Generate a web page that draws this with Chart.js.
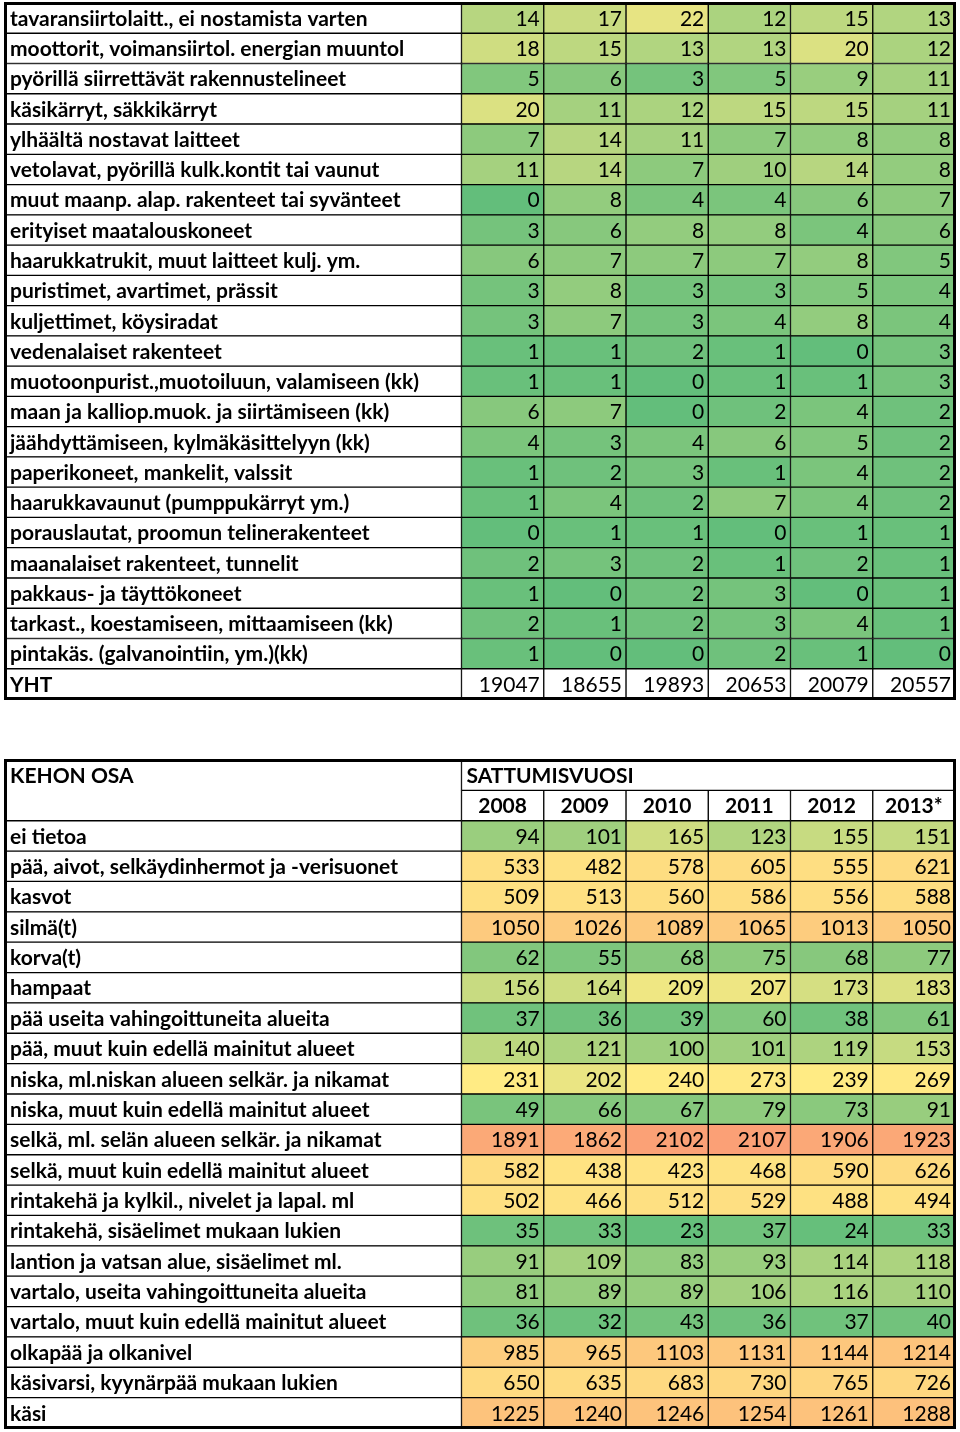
<!DOCTYPE html>
<html>
<head>
<meta charset="utf-8">
<script src="https://cdn.jsdelivr.net/npm/chart.js@4.4.1/dist/chart.umd.min.js"></script>
<style>
  body { margin: 0; background: #fff; }
  .box { position: absolute; left: 0; width: 960px; }
  #top { top: 0; height: 705px; }
  #bottom { top: 752px; height: 680px; }
</style>
</head>
<body>
<div class="box" id="top"><canvas id="chartTop"></canvas></div>
<div class="box" id="bottom"><canvas id="chartBottom"></canvas></div>
<script>
// top table: row names and yearly values (last row = total)
var labelsTop = [
  "tavaransiirtolaitt., ei nostamista varten",
  "moottorit, voimansiirtol. energian muuntol",
  "pyörillä siirrettävät rakennustelineet",
  "käsikärryt, säkkikärryt",
  "ylhäältä nostavat laitteet",
  "vetolavat, pyörillä kulk.kontit tai vaunut",
  "muut maanp. alap. rakenteet tai syvänteet",
  "erityiset maatalouskoneet",
  "haarukkatrukit, muut laitteet kulj. ym.",
  "puristimet, avartimet, prässit",
  "kuljettimet, köysiradat",
  "vedenalaiset rakenteet",
  "muotoonpurist.,muotoiluun, valamiseen (kk)",
  "maan ja kalliop.muok. ja siirtämiseen (kk)",
  "jäähdyttämiseen, kylmäkäsittelyyn (kk)",
  "paperikoneet, mankelit, valssit",
  "haarukkavaunut (pumppukärryt ym.)",
  "porauslautat, proomun telinerakenteet",
  "maanalaiset rakenteet, tunnelit",
  "pakkaus- ja täyttökoneet",
  "tarkast., koestamiseen, mittaamiseen (kk)",
  "pintakäs. (galvanointiin, ym.)(kk)",
  "YHT"
];
var top2008 = [14,18,5,20,7,11,0,3,6,3,3,1,1,6,4,1,1,0,2,1,2,1,19047];
var top2009 = [17,15,6,11,14,14,8,6,7,8,7,1,1,7,3,2,4,1,3,0,1,0,18655];
var top2010 = [22,13,3,12,11,7,4,8,7,3,3,2,0,0,4,3,2,1,2,2,2,0,19893];
var top2011 = [12,13,5,15,7,10,4,8,7,3,4,1,1,2,6,1,7,0,1,3,3,2,20653];
var top2012 = [15,20,9,15,8,14,6,4,8,5,8,0,1,4,5,4,4,1,2,0,4,1,20079];
var top2013 = [13,12,11,11,8,8,7,6,5,4,4,3,3,2,2,2,2,1,1,1,1,0,20557];

// bottom table: body parts
var years = ["2008", "2009", "2010", "2011", "2012", "2013*"];
var labelsBody = [
  "ei tietoa",
  "pää, aivot, selkäydinhermot ja -verisuonet",
  "kasvot",
  "silmä(t)",
  "korva(t)",
  "hampaat",
  "pää useita vahingoittuneita alueita",
  "pää, muut kuin edellä mainitut alueet",
  "niska, ml.niskan alueen selkär. ja nikamat",
  "niska, muut kuin edellä mainitut alueet",
  "selkä, ml. selän alueen selkär. ja nikamat",
  "selkä, muut kuin edellä mainitut alueet",
  "rintakehä ja kylkil., nivelet ja lapal. ml",
  "rintakehä, sisäelimet mukaan lukien",
  "lantion ja vatsan alue, sisäelimet ml.",
  "vartalo, useita vahingoittuneita alueita",
  "vartalo, muut kuin edellä mainitut alueet",
  "olkapää ja olkanivel",
  "käsivarsi, kyynärpää mukaan lukien",
  "käsi"
];
var body2008 = [94,533,509,1050,62,156,37,140,231,49,1891,582,502,35,91,81,36,985,650,1225];
var body2009 = [101,482,513,1026,55,164,36,121,202,66,1862,438,466,33,109,89,32,965,635,1240];
var body2010 = [165,578,560,1089,68,209,39,100,240,67,2102,423,512,23,83,89,43,1103,683,1246];
var body2011 = [123,605,586,1065,75,207,60,101,273,79,2107,468,529,37,93,106,36,1131,730,1254];
var body2012 = [155,555,556,1013,68,173,38,119,239,73,1906,590,488,24,114,116,37,1144,765,1261];
var body2013 = [151,621,588,1050,77,183,61,153,269,91,1923,626,494,33,118,110,40,1214,726,1288];

var LABEL_W = 5.55; // width of the name column, in value-column units
var FONT = "Lato, 'Open Sans', sans-serif";

// excel style 3-colour scale: green -> yellow -> red
function scaleColor(v, lo, mid, hi) {
  var g = [99, 190, 123], y = [255, 235, 132], r = [248, 105, 107];
  var a, b, t;
  if (v <= mid) { a = g; b = y; t = (v - lo) / (mid - lo); }
  else { a = y; b = r; t = (v - mid) / (hi - mid); }
  t = Math.max(0, Math.min(1, t));
  var c = a.map(function (x, k) { return Math.round(x + (b[k] - x) * t); });
  return "rgb(" + c.join(",") + ")";
}

var tableText = {
  id: "tableText",
  afterDatasetsDraw: function (chart) {
    var ctx = chart.ctx;
    ctx.save();
    chart.data.datasets.forEach(function (ds, d) {
      var meta = chart.getDatasetMeta(d);
      meta.data.forEach(function (el, i) {
        var t = ds.texts[i];
        if (t === null || t === undefined || t === "") return;
        var p = el.getProps(["x", "base", "y"], true);
        var bold = ds.bold === true || (ds.boldRows && ds.boldRows.indexOf(i) >= 0);
        ctx.font = (bold ? "bold " : "") + (ds.fontSize || 19) + "px " + FONT;
        ctx.fillStyle = "#000";
        ctx.textBaseline = "middle";
        var align = (ds.centerRows && ds.centerRows.indexOf(i) >= 0) ? "center" : ds.align;
        ctx.textAlign = align;
        var tx = align === "left" ? Math.min(p.x, p.base) + 5
               : align === "center" ? (p.x + p.base) / 2
               : Math.max(p.x, p.base) - 4;
        ctx.fillText(String(t), tx, p.y + 1);
      });
    });
    var a = chart.chartArea;
    ctx.lineWidth = 3;
    ctx.strokeStyle = "#000";
    ctx.strokeRect(a.left + 0.5, a.top + 0.5, a.right - a.left - 1, a.bottom - a.top - 1);
    ctx.restore();
  }
};

function baseOptions(padding) {
  return {
    indexAxis: "y",
    responsive: true,
    maintainAspectRatio: false,
    animation: false,
    events: [],
    layout: { padding: padding },
    plugins: { legend: { display: false }, tooltip: { enabled: false } },
    scales: {
      x: { type: "linear", display: false, min: -LABEL_W, max: 6 },
      y: { type: "category", display: false, offset: true }
    }
  };
}

function cellDefaults() {
  return { grouped: false, categoryPercentage: 1, barPercentage: 1,
           borderColor: "#000", borderSkipped: false };
}

// ----- top table -----
var topCols = [top2008, top2009, top2010, top2011, top2012, top2013];
var lastTop = labelsTop.length - 1;
var topSets = [Object.assign(cellDefaults(), {
  data: labelsTop.map(function () { return [-LABEL_W, 0]; }),
  backgroundColor: "#fff", borderWidth: 1,
  texts: labelsTop, align: "left", bold: true, fontSize: 21
})];
topCols.forEach(function (vals, c) {
  topSets.push(Object.assign(cellDefaults(), {
    data: vals.map(function () { return [c, c + 1]; }),
    backgroundColor: vals.map(function (v, i) {
      return i === lastTop ? "#fff" : scaleColor(v, 0, 26, 60);
    }),
    borderWidth: 1,
    texts: vals, align: "right", fontSize: 21
  }));
});

new Chart(document.getElementById("chartTop"), {
  type: "bar",
  data: { labels: labelsTop, datasets: topSets },
  options: baseOptions({ left: 5, top: 3, right: 5, bottom: 6 }),
  plugins: [tableText]
});

// ----- bottom table -----
var bodyCols = [body2008, body2009, body2010, body2011, body2012, body2013];
var rowsBottom = ["KEHON OSA", ""].concat(labelsBody);
var bottomSets = [Object.assign(cellDefaults(), {
  data: rowsBottom.map(function () { return [-LABEL_W, 0]; }),
  backgroundColor: "#fff",
  borderWidth: rowsBottom.map(function (r, i) {
    if (i === 0) return { left: 1, top: 1, right: 1, bottom: 0 };
    if (i === 1) return { left: 1, top: 0, right: 1, bottom: 1 };
    return 1;
  }),
  texts: rowsBottom, align: "left", bold: true, fontSize: 21
}), Object.assign(cellDefaults(), {
  data: rowsBottom.map(function (r, i) { return i === 0 ? [0, 6] : null; }),
  backgroundColor: "#fff", borderWidth: 1,
  texts: rowsBottom.map(function (r, i) { return i === 0 ? "SATTUMISVUOSI" : null; }),
  align: "left", bold: true, fontSize: 21
})];
bodyCols.forEach(function (vals, c) {
  var cells = [null, years[c]].concat(vals);
  bottomSets.push(Object.assign(cellDefaults(), {
    data: cells.map(function (v, i) { return i === 0 ? null : [c, c + 1]; }),
    backgroundColor: cells.map(function (v, i) {
      return i < 2 ? "#fff" : scaleColor(v, 20, 230, 3500);
    }),
    borderWidth: 1,
    texts: cells, align: "right", fontSize: 21,
    boldRows: [1], centerRows: [1]
  }));
});

new Chart(document.getElementById("chartBottom"), {
  type: "bar",
  data: { labels: rowsBottom, datasets: bottomSets },
  options: baseOptions({ left: 5, top: 8, right: 5, bottom: 4 }),
  plugins: [tableText]
});
</script>
</body>
</html>
